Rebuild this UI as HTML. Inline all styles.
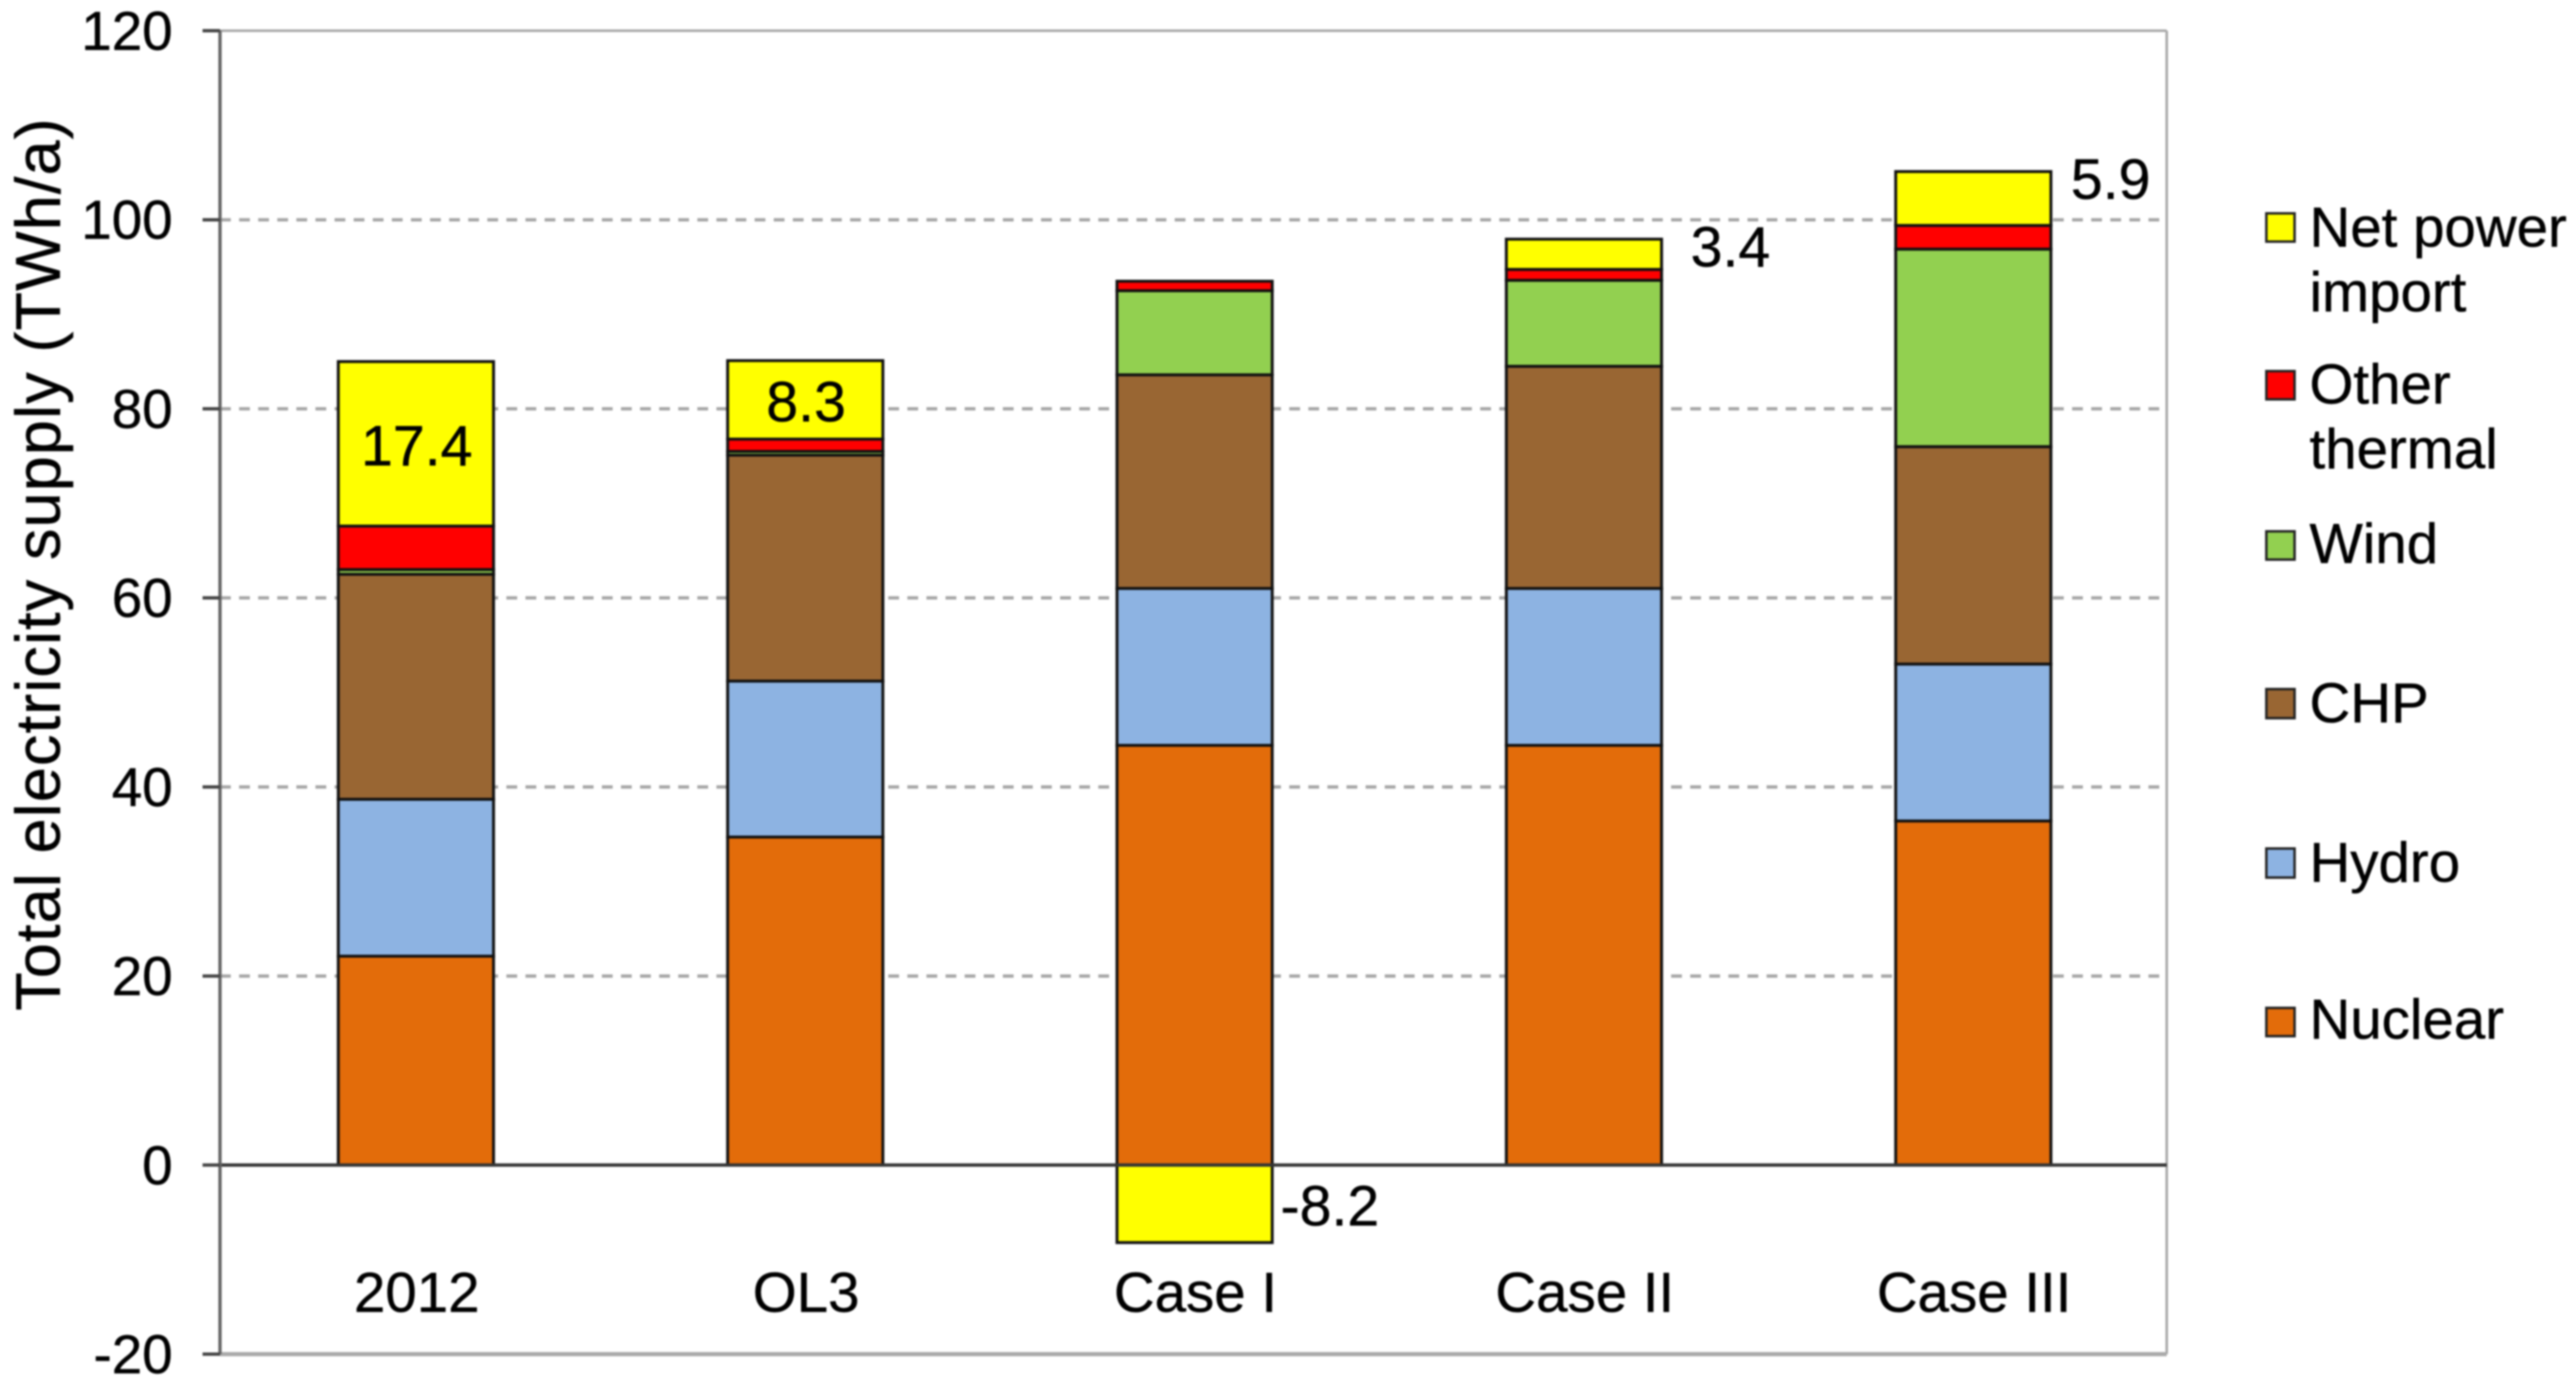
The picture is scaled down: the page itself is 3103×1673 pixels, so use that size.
<!DOCTYPE html>
<html lang="en">
<head>
<meta charset="utf-8">
<title>Total electricity supply</title>
<style>
html,body{margin:0;padding:0;background:#fff;width:3103px;height:1673px;overflow:hidden}
svg{display:block;filter:blur(1px)}
text{font-family:"Liberation Sans",sans-serif;fill:#000;font-size:66px;stroke:#000;stroke-width:0.5px}
.leg{font-size:68px}
</style>
</head>
<body>
<svg id="chart" xmlns="http://www.w3.org/2000/svg" width="3103" height="1673" viewBox="0 0 3103 1673">
  <rect x="0" y="0" width="3103" height="1673" fill="#fff"/>
  <g id="grid"></g>
  <g id="bars"></g>
  <g id="axes"></g>
  <g id="labels"></g>
  <text transform="translate(72,680) rotate(-90)" text-anchor="middle" style="font-size:76px" textLength="1075" lengthAdjust="spacing">Total electricity supply (TWh/a)</text>
  <g>
    <g>
      <rect x="2730" y="257" width="34" height="34" fill="#FFFF00" stroke="#222" stroke-width="3"/>
      <text class="leg" x="2782" y="297">Net power</text>
      <text class="leg" x="2782" y="375">import</text>
    </g>
    <g>
      <rect x="2730" y="447" width="34" height="34" fill="#FF0000" stroke="#222" stroke-width="3"/>
      <text class="leg" x="2782" y="486">Other</text>
      <text class="leg" x="2782" y="564">thermal</text>
    </g>
    <g>
      <rect x="2730" y="640" width="34" height="34" fill="#92D050" stroke="#222" stroke-width="3"/>
      <text class="leg" x="2782" y="678">Wind</text>
    </g>
    <g>
      <rect x="2730" y="830" width="34" height="35" fill="#996633" stroke="#222" stroke-width="3"/>
      <text class="leg" x="2782" y="870">CHP</text>
    </g>
    <g>
      <rect x="2730" y="1022" width="34" height="35" fill="#8DB3E2" stroke="#222" stroke-width="3"/>
      <text class="leg" x="2782" y="1062">Hydro</text>
    </g>
    <g>
      <rect x="2730" y="1214" width="34" height="34" fill="#E36C0A" stroke="#222" stroke-width="3"/>
      <text class="leg" x="2782" y="1251">Nuclear</text>
    </g>
  </g>
</svg>
<script>
const categories = ['2012', 'OL3', 'Case I', 'Case II', 'Case III'];
const nuclear = [22.1, 34.7, 44.4, 44.4, 36.4];
const hydro = [16.6, 16.5, 16.6, 16.6, 16.6];
const chp = [23.8, 23.9, 22.6, 23.5, 23.0];
const wind = [0.5, 0.4, 8.9, 9.1, 20.9];
const otherThermal = [4.6, 1.3, 1.0, 1.15, 2.5];
const netImport = [17.4, 8.3, -8.2, 3.2, 5.7];
const netImportLabels = ['17.4', '8.3', '-8.2', '3.4', '5.9'];
const yTicks = [-20, 0, 20, 40, 60, 80, 100, 120];

const NS = 'http://www.w3.org/2000/svg';
const plotLeft = 265, plotRight = 2610, plotTop = 37, plotBottom = 1631;
const yMin = -20, yMax = 120;
const barWidth = 187;
function yScale(v) { return plotBottom - (v - yMin) / (yMax - yMin) * (plotBottom - plotTop); }
function xBand(i) { return plotLeft + 1.5 + (i + 0.5) * (plotRight - plotLeft) / categories.length; }
function make(tag, parent, attrs, txt) {
  const el = document.createElementNS(NS, tag);
  for (const k in attrs) el.setAttribute(k, attrs[k]);
  if (txt !== undefined) el.textContent = txt;
  parent.appendChild(el);
  return el;
}
function slug(s) { return s.toLowerCase().replace(/\s+/g, '-'); }

const grid = document.getElementById('grid');
const barsG = document.getElementById('bars');
const axes = document.getElementById('axes');
const labels = document.getElementById('labels');

yTicks.forEach(function (t) {
  if (t === yMin || t === 0 || t === yMax) return;
  const line = make('line', grid, { x1: plotLeft, x2: plotRight, y1: yScale(t), y2: yScale(t), stroke: '#a6a6a6', 'stroke-width': 4, 'stroke-dasharray': '13 10' });
  
  
});

const seriesNames = ['nuclear', 'hydro', 'chp', 'wind', 'other-thermal', 'net-import'];
const seriesValues = [nuclear, hydro, chp, wind, otherThermal, netImport];
const seriesColors = ['#E36C0A', '#8DB3E2', '#996633', '#92D050', '#FF0000', '#FFFF00'];

categories.forEach(function (cat, i) {
  const cx = xBand(i);
  const left = cx - barWidth / 2;
  let top = 0;
  seriesValues.forEach(function (vals, s) {
    const v = vals[i];
    const y0 = v >= 0 ? top : 0;
    const y1 = v >= 0 ? top + v : v;
    if (v >= 0) top += v;
    const r = make('rect', barsG, { x: left, y: yScale(Math.max(y0, y1)), width: barWidth, height: Math.abs(yScale(y0) - yScale(y1)), fill: seriesColors[s], stroke: '#111', 'stroke-width': 3.5 });
    
    
  });

  const v = netImport[i];
  let attrs;
  if (v < 0) {
    attrs = { x: cx + barWidth / 2 + 10, y: yScale(v / 2) + 26, 'text-anchor': 'start' };
  } else if (v >= 8) {
    attrs = { x: cx + 1, y: yScale(top - v / 2) + 26, 'text-anchor': 'middle' };
  } else {
    attrs = { x: cx + barWidth / 2 + (v < 4 ? 35 : 24), y: yScale(top) + (v < 4 ? 33 : 33), 'text-anchor': 'start' };
  }
  attrs.style = 'font-size:69px';
  const lab = make('text', labels, attrs, netImportLabels[i]);
  
  

  const catLab = make('text', axes, { x: cx + 1, y: 1580, 'text-anchor': 'middle', style: 'font-size:68px' }, cat);
  
  
});

const frameTop = make('line', axes, { x1: plotLeft, x2: plotRight, y1: plotTop, y2: plotTop, stroke: '#a6a6a6', 'stroke-width': 3 });


const frameRight = make('line', axes, { x1: plotRight, x2: plotRight, y1: plotTop, y2: plotBottom, stroke: '#a6a6a6', 'stroke-width': 3 });


const frameBottom = make('line', axes, { x1: plotLeft, x2: plotRight, y1: plotBottom, y2: plotBottom, stroke: '#aaaaaa', 'stroke-width': 5 });


const zeroLine = make('line', axes, { x1: plotLeft, x2: plotRight, y1: yScale(0), y2: yScale(0), stroke: '#333', 'stroke-width': 4 });


const yAxis = make('line', axes, { x1: plotLeft, x2: plotLeft, y1: plotTop, y2: plotBottom, stroke: '#666', 'stroke-width': 4 });



yTicks.forEach(function (t) {
  const tick = make('line', axes, { x1: plotLeft - 21, x2: plotLeft, y1: yScale(t), y2: yScale(t), stroke: '#444', 'stroke-width': 4 });
  
  
  const lab = make('text', axes, { x: 208, y: yScale(t) + 23, 'text-anchor': 'end' }, String(t));
  
  
});
</script>
</body>
</html>
